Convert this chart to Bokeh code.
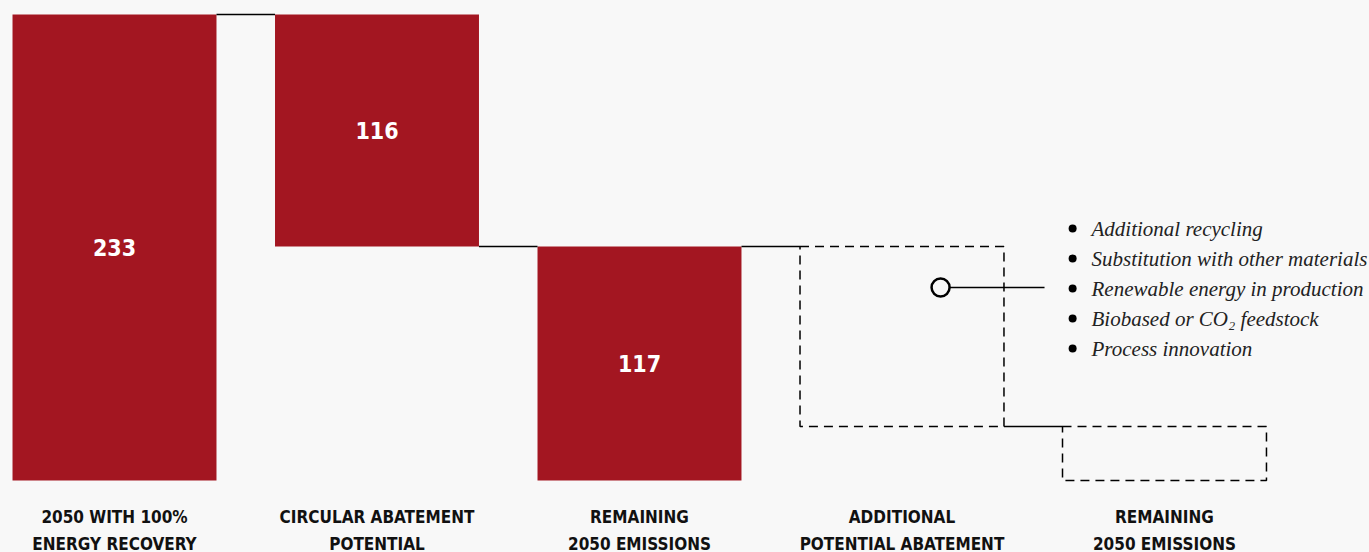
from bokeh.plotting import figure
from bokeh.embed import file_html
from bokeh.resources import INLINE
from bokeh.core.properties import value
from bokeh.models import Range1d

# ---- data ----
categories = ["2050 WITH 100%\nENERGY RECOVERY", "CIRCULAR ABATEMENT\nPOTENTIAL",
              "REMAINING\n2050 EMISSIONS", "ADDITIONAL\nPOTENTIAL ABATEMENT",
              "REMAINING\n2050 EMISSIONS"]
values = [233, -116, 117, -90, 27]          # waterfall steps
kinds = ["total", "step", "total", "step", "total"]
solid = [True, True, True, False, False]
levers = ["Additional recycling", "Substitution with other materials",
          "Renewable energy in production", "Biobased or CO\u2082 feedstock",
          "Process innovation"]

BG = "#f8f8f8"
RED = "#a31621"
W = 0.777
COND = "DejaVu Sans Condensed, Liberation Sans Narrow, Roboto"

# compute bar bottoms/tops
bottoms, tops = [], []
running = 0
for v, k in zip(values, kinds):
    if k == "total":
        b, t = 0, v
        running = v
    else:
        nxt = running + v
        b, t = min(running, nxt), max(running, nxt)
        running = nxt
    bottoms.append(b)
    tops.append(t)

xs = list(range(len(values)))

p = figure(width=1369, height=552, output_backend="svg", toolbar_location=None,
           x_range=Range1d(-0.4343, 4.781), y_range=Range1d(-36, 240),
           min_border=0, background_fill_color=BG, border_fill_color=BG)
p.axis.visible = False
p.grid.visible = False
p.outline_line_color = None

sx = [x for x, s in zip(xs, solid) if s]
p.vbar(x=sx, width=W, bottom=[bottoms[i] for i in sx], top=[tops[i] for i in sx],
       fill_color=RED, line_color=None)

dx = [x for x, s in zip(xs, solid) if not s]
p.quad(left=[x - W / 2 for x in dx], right=[x + W / 2 for x in dx],
       bottom=[bottoms[i] for i in dx], top=[tops[i] for i in dx],
       fill_color=None, line_color="black", line_width=1.5, line_dash="9 6")

# connectors
levels = []
running = 0
for v, k in zip(values, kinds):
    running = v if k == "total" else running + v
    levels.append(running)
cx0 = [i + W / 2 for i in range(len(values) - 1)]
cx1 = [i + 1 - W / 2 for i in range(len(values) - 1)]
p.segment(x0=cx0, x1=cx1, y0=levels[:-1], y1=levels[:-1], line_color="black", line_width=1.5)

# value labels inside solid bars
lab_x = sx
lab_y = [(bottoms[i] + tops[i]) / 2 for i in sx]
lab_t = [str(abs(values[i])) for i in sx]
p.text(x=lab_x, y=lab_y, text=lab_t, text_color="white", text_align="center",
       text_baseline="middle", text_font=value(COND),
       text_font_style="bold", text_font_size="23px")

# category labels
line1 = [c.split("\n")[0] for c in categories]
line2 = [c.split("\n")[1] for c in categories]
p.text(x=xs, y=[-18] * len(xs), text=line1, text_align="center", text_baseline="middle",
       text_font=value(COND), text_font_style="bold",
       text_font_size="17px", text_color="#111111")
p.text(x=xs, y=[-31.5] * len(xs), text=line2, text_align="center", text_baseline="middle",
       text_font=value(COND), text_font_style="bold",
       text_font_size="17px", text_color="#111111")

# annotation for additional abatement
ann_y = 96.5
p.segment(x0=[3.147], x1=[3.543], y0=[ann_y], y1=[ann_y], line_color="black", line_width=1.5)
p.scatter(x=[3.147], y=[ann_y], marker="circle", size=18, fill_color=BG,
          line_color="black", line_width=2.5)

ly = [126 - 15 * i for i in range(len(levers))]
p.scatter(x=[3.650] * len(levers), y=ly, marker="circle", size=8, fill_color="black",
          line_color=None)
p.text(x=[3.722] * len(levers), y=ly, text=levers, text_align="left",
       text_baseline="middle", text_font=value("Liberation Serif"),
       text_font_style="italic", text_font_size="21px", text_color="#222222")

html = file_html(p, INLINE)
html = html.replace("<head>", "<head><style>body{background:%s;}</style>" % BG, 1)
open("out.html", "w").write(html)
